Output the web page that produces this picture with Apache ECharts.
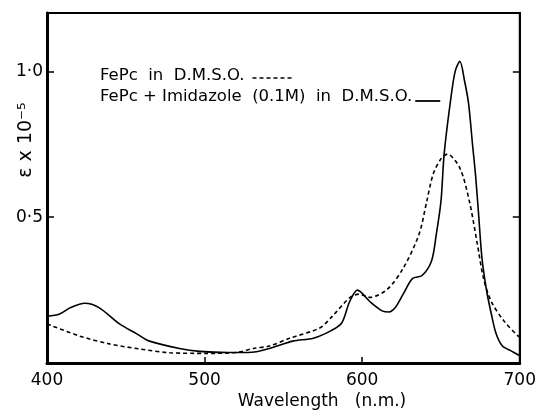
<!DOCTYPE html>
<html>
<head>
<meta charset="utf-8">
<script src="https://cdn.jsdelivr.net/npm/echarts@6/dist/echarts.min.js"></script>
<style>
  html, body { margin: 0; padding: 0; background: #fff; }
  #chart { width: 539px; height: 414px; }
</style>
</head>
<body>
<div id="chart"></div>
<script>
// FePc in DMSO (dashed)
const waveFePc = [400, 421, 440, 459, 478, 501, 520, 531, 541, 554, 573, 581, 592, 598, 605, 616, 626, 636, 641, 645, 650, 654, 662, 668, 673, 677, 682, 690, 699, 700]
const epsFePc = [0.134, 0.092, 0.065, 0.048, 0.035, 0.033, 0.036, 0.05, 0.058, 0.085, 0.12, 0.16, 0.223, 0.236, 0.225, 0.253, 0.325, 0.44, 0.555, 0.647, 0.70, 0.716, 0.668, 0.555, 0.41, 0.29, 0.21, 0.144, 0.092, 0.09]

// FePc + imidazole (0.1M) in DMSO (solid)
const waveImid = [400, 408, 415, 424, 433, 446, 457, 465, 484, 497, 515, 530, 541, 556, 569, 580, 587, 592, 597, 605, 613, 617, 621, 626, 632, 638, 644, 647, 650, 652, 656, 659, 662, 665, 667.5, 670, 672, 674, 676, 679, 682, 685, 689, 695, 700]
const epsImid = [0.16, 0.168, 0.19, 0.205, 0.19, 0.134, 0.10, 0.075, 0.05, 0.04, 0.036, 0.037, 0.05, 0.075, 0.085, 0.11, 0.137, 0.21, 0.25, 0.21, 0.178, 0.175, 0.19, 0.236, 0.29, 0.30, 0.35, 0.44, 0.555, 0.716, 0.897, 1.0, 1.034, 0.966, 0.89, 0.75, 0.64, 0.5, 0.36, 0.246, 0.167, 0.10, 0.058, 0.04, 0.025]

const xTicks = [400, 500, 600, 700]
const yTickLabels = { 0.5: '0·5', 1: '1·0' }

const seriesNames = ['FePc  in  D.M.S.O.', 'FePc + Imidazole  (0.1M)  in  D.M.S.O.']

const font = 'DejaVu Sans'
const legendFont = '16.5px "DejaVu Sans"'
const chart = echarts.init(document.getElementById('chart'))

function pairs(xs, ys) {
  return xs.map((x, i) => [x, ys[i]])
}

// legend sits after the text, so measure the text to place the line sample
const ctx = document.createElement('canvas').getContext('2d')
ctx.font = legendFont
const w0 = ctx.measureText(seriesNames[0]).width
const w1 = ctx.measureText(seriesNames[1]).width
const legX = 100

const option = {
  animation: false,
  backgroundColor: '#fff',
  textStyle: { fontFamily: font, color: '#000' },
  grid: {
    left: 47, right: 19, top: 13, bottom: 51,
    show: true, borderColor: '#000', borderWidth: 2
  },
  xAxis: {
    type: 'value',
    min: 400,
    max: 700,
    interval: 100,
    axisLine: { show: true, lineStyle: { color: '#000', width: 3 } },
    axisTick: { show: true, inside: true, length: 6, lineStyle: { color: '#000', width: 1.5 } },
    axisLabel: {
      fontFamily: font, fontSize: 17, color: '#000', margin: 9,
      formatter: v => xTicks.includes(v) ? String(v) : ''
    },
    splitLine: { show: false }
  },
  yAxis: [{
    type: 'value',
    min: 0,
    max: 1.2,
    interval: 0.5,
    axisLine: { show: true, lineStyle: { color: '#000', width: 3 } },
    axisTick: { show: true, inside: true, length: 7, lineStyle: { color: '#000', width: 1.5 } },
    axisLabel: {
      fontFamily: font, fontSize: 17, color: '#000', margin: 4,
      showMaxLabel: false,
      formatter: v => yTickLabels[v] || ''
    },
    splitLine: { show: false }
  }, {
    type: 'value',
    position: 'right',
    min: 0,
    max: 1.2,
    interval: 0.5,
    axisLine: { show: true, lineStyle: { color: '#000', width: 2 } },
    axisTick: { show: true, inside: true, length: 7, lineStyle: { color: '#000', width: 1.5 } },
    axisLabel: { show: false },
    splitLine: { show: false }
  }],
  graphic: [
    {
      type: 'text',
      x: 26, y: 140,
      rotation: Math.PI / 2,
      style: {
        text: 'ε x 10⁻⁵', fontFamily: font, fontSize: 19, fill: '#000',
        align: 'center', verticalAlign: 'middle'
      }
    },
    {
      type: 'text',
      x: 322, y: 402,
      style: {
        text: 'Wavelength   (n.m.)', fontFamily: font, fontSize: 17, fill: '#000',
        align: 'center', verticalAlign: 'middle'
      }
    },
    {
      type: 'text',
      x: legX, y: 76,
      style: {
        text: seriesNames[0], font: legendFont, fill: '#000',
        align: 'left', verticalAlign: 'middle'
      }
    },
    {
      type: 'line',
      shape: { x1: legX + w0 + 8, y1: 78, x2: legX + w0 + 48, y2: 78 },
      style: { stroke: '#000', lineWidth: 1.6, lineDash: [4, 3] }
    },
    {
      type: 'text',
      x: legX, y: 97,
      style: {
        text: seriesNames[1], font: legendFont, fill: '#000',
        align: 'left', verticalAlign: 'middle'
      }
    },
    {
      type: 'line',
      shape: { x1: legX + w1 + 3, y1: 101, x2: legX + w1 + 28, y2: 101 },
      style: { stroke: '#000', lineWidth: 1.8 }
    }
  ],
  series: [
    {
      name: seriesNames[0],
      type: 'line',
      smooth: 0.3,
      symbol: 'none',
      data: pairs(waveFePc, epsFePc),
      lineStyle: { color: '#000', width: 1.6, type: [4, 3] }
    },
    {
      name: seriesNames[1],
      type: 'line',
      smooth: 0.3,
      symbol: 'none',
      data: pairs(waveImid, epsImid),
      lineStyle: { color: '#000', width: 1.6 }
    }
  ]
}

chart.setOption(option)
</script>
</body>
</html>
